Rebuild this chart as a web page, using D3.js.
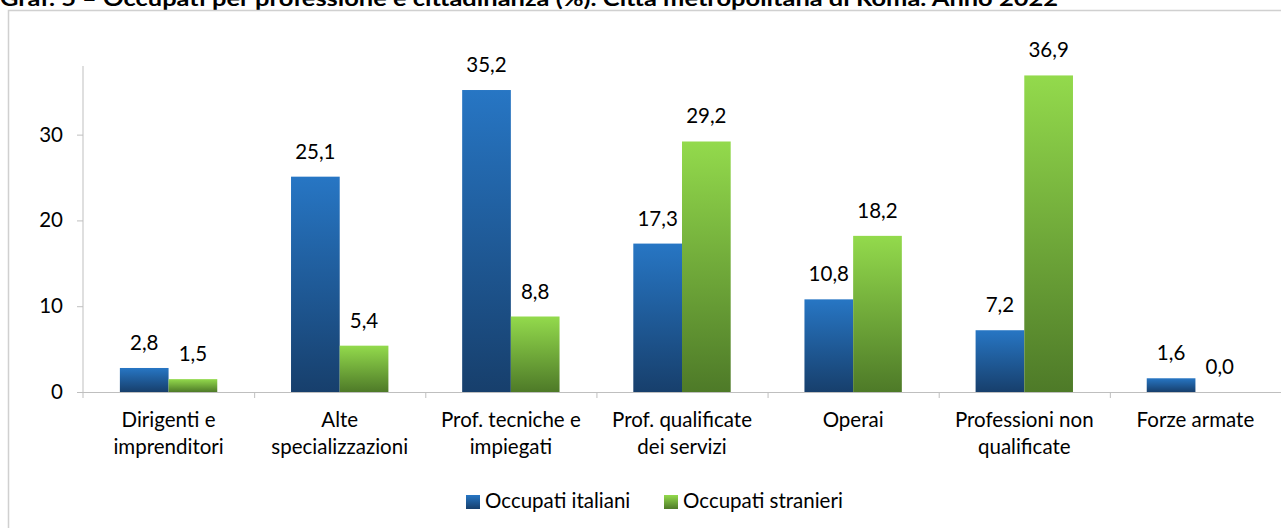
<!DOCTYPE html>
<html>
<head>
<meta charset="utf-8">
<script src="https://cdn.jsdelivr.net/npm/d3@7"></script>
<style>
  body { margin: 0; background: #fff; }
  svg { display: block; font-family: Lato, "Open Sans", sans-serif; }
</style>
</head>
<body>
<svg id="chart" width="1281" height="528"></svg>
<script>
const categories = [
  ["Dirigenti e", "imprenditori"],
  ["Alte", "specializzazioni"],
  ["Prof. tecniche e", "impiegati"],
  ["Prof. qualificate", "dei servizi"],
  ["Operai"],
  ["Professioni non", "qualificate"],
  ["Forze armate"]
]
const seriesNames = ["Occupati italiani", "Occupati stranieri"]
const italiani = [2.8, 25.1, 35.2, 17.3, 10.8, 7.2, 1.6]
const stranieri = [1.5, 5.4, 8.8, 29.2, 18.2, 36.9, 0.0]
const yTicks = [0, 10, 20, 30]
const title = "Graf. 5 – Occupati per professione e cittadinanza (%). Città metropolitana di Roma. Anno 2022"

const svg = d3.select("#chart")
const W = 1281, H = 528
const margin = { left: 83, right: 0, top: 66, bottom: 136 }
const plotH = H - margin.top - margin.bottom
const fs = 20.5

// gradients
const defs = svg.append("defs")
const grads = [
  { id: "gBlue", top: "#2776c4", bottom: "#173f6c" },
  { id: "gGreen", top: "#93da4c", bottom: "#4e7a28" }
]
grads.forEach(g => {
  const lg = defs.append("linearGradient").attr("id", g.id)
    .attr("x1", 0).attr("y1", 0).attr("x2", 0).attr("y2", 1)
  lg.append("stop").attr("offset", "0%").attr("stop-color", g.top)
  lg.append("stop").attr("offset", "100%").attr("stop-color", g.bottom)
})

// title (top part cut off, as in the source image)
svg.append("text")
  .attr("x", 0).attr("y", 6)
  .attr("font-family", "Lato, sans-serif")
  .attr("font-weight", "bold")
  .attr("font-size", 21)
  .attr("textLength", 1058)
  .attr("lengthAdjust", "spacingAndGlyphs")
  .attr("fill", "#000")
  .text(title)

// outer frame
svg.append("rect")
  .attr("x", 8.5).attr("y", 10.5)
  .attr("width", W + 10).attr("height", H + 10)
  .attr("fill", "none")
  .attr("stroke", "#d0d0d0")
  .attr("stroke-width", 1.5)

const g = svg.append("g").attr("transform", `translate(${margin.left},${margin.top})`)
const plotW = W - margin.left - margin.right

const x0 = d3.scaleBand().domain(d3.range(categories.length)).range([0, plotW]).padding(0)
const step = x0.step()
const x1 = d3.scaleBand().domain(seriesNames).range([step * 0.2155, step * 0.7845]).padding(0)
const y = d3.scaleLinear().domain([0, 38]).range([plotH, 0])

const fmt = v => d3.format(".1f")(v).replace(".", ",")

// y axis
const yAxis = g.append("g").call(d3.axisLeft(y).tickValues(yTicks).tickSize(6).tickPadding(14))
yAxis.select(".domain").attr("stroke", "#bfbfbf").attr("d", `M0,0V${plotH + 6}`)
yAxis.selectAll(".tick line").attr("stroke", "#bfbfbf")
yAxis.selectAll(".tick text").attr("font-size", fs).attr("fill", "#000").attr("font-family", "Lato, sans-serif")

// x axis line + category boundary ticks
g.append("line")
  .attr("x1", 0).attr("x2", plotW)
  .attr("y1", y(0) + 0.5).attr("y2", y(0) + 0.5)
  .attr("stroke", "#bfbfbf")
g.selectAll(".xtick")
  .data(d3.range(1, categories.length))
  .join("line")
  .attr("x1", d => x0(d) + 0.5).attr("x2", d => x0(d) + 0.5)
  .attr("y1", y(0)).attr("y2", y(0) + 6)
  .attr("stroke", "#bfbfbf")

// bars
const data = categories.map((c, i) => ({ i, values: [italiani[i], stranieri[i]] }))
const groups = g.selectAll(".grp").data(data).join("g")
  .attr("transform", d => `translate(${x0(d.i)},0)`)

groups.selectAll("rect")
  .data(d => d.values.map((v, k) => ({ k, v })))
  .join("rect")
  .attr("x", d => x1(seriesNames[d.k]))
  .attr("width", x1.bandwidth())
  .attr("y", d => y(d.v))
  .attr("height", d => y(0) - y(d.v))
  .attr("fill", d => `url(#${grads[d.k].id})`)

groups.selectAll("text.val")
  .data(d => d.values.map((v, k) => ({ k, v })))
  .join("text")
  .attr("class", "val")
  .attr("x", d => x1(seriesNames[d.k]) + x1.bandwidth() / 2)
  .attr("y", d => y(d.v) - 18)
  .attr("text-anchor", "middle")
  .attr("font-size", fs)
  .attr("fill", "#000")
  .text(d => fmt(d.v))

// category labels
groups.append("text")
  .attr("text-anchor", "middle")
  .attr("font-size", fs)
  .attr("fill", "#000")
  .selectAll("tspan")
  .data(d => categories[d.i])
  .join("tspan")
  .attr("x", step / 2)
  .attr("y", (d, k) => y(0) + 35 + k * 27)
  .text(d => d)

// legend
const legend = svg.append("g").attr("transform", "translate(466,495)")
const legendX = [0, 198]
seriesNames.forEach((s, k) => {
  const lg = legend.append("g").attr("transform", `translate(${legendX[k]},0)`)
  lg.append("rect").attr("width", 14).attr("height", 14).attr("fill", `url(#${grads[k].id})`)
  lg.append("text").attr("x", 19).attr("y", 13)
    .attr("font-size", fs).attr("fill", "#000").text(s)
})
</script>
</body>
</html>
